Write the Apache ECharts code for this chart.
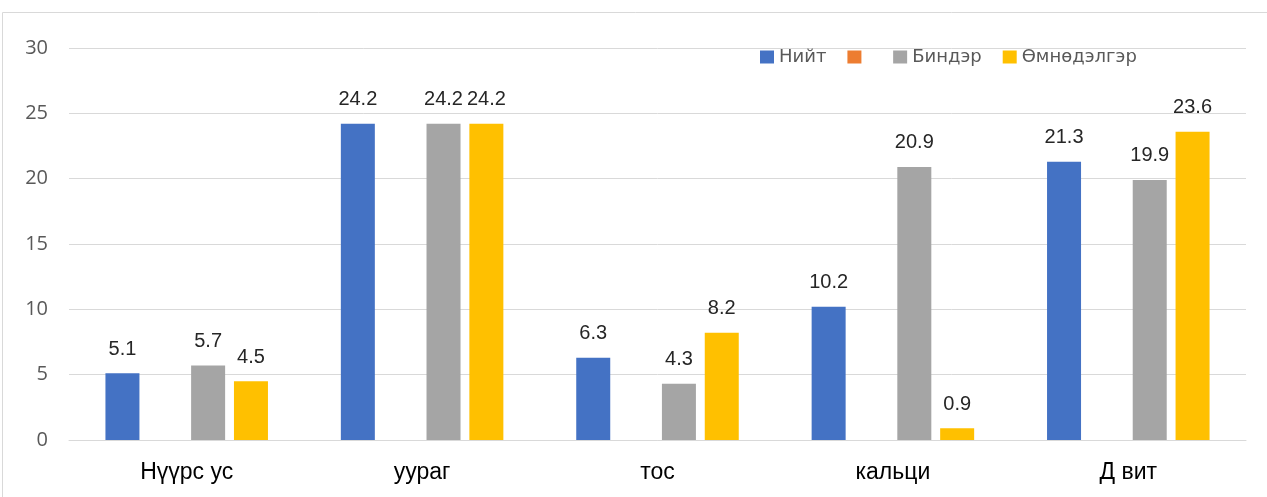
<!DOCTYPE html>
<html>
<head>
<meta charset="utf-8">
<script src="https://cdn.jsdelivr.net/npm/echarts@6/dist/echarts.min.js"></script>
<style>
  html, body { margin: 0; padding: 0; background: #fff; }
  #main { width: 1267px; height: 497px; }
</style>
</head>
<body>
<div id="main"></div>
<script>
var categories = ['Нүүрс ус', 'уураг', 'тос', 'кальци', 'Д вит'];
var niit = [5.1, 24.2, 6.3, 10.2, 21.3];
var second = [null, null, null, null, null];
var binder = [5.7, 24.2, 4.3, 20.9, 19.9];
var umnudelger = [4.5, 24.2, 8.2, 0.9, 23.6];
var yTicks = [0, 5, 10, 15, 20, 25, 30];

var chartDom = document.getElementById('main');
var myChart = echarts.init(chartDom);
var option;

var font = 'Liberation Sans, Arial, sans-serif';
var uiFont = 'Open Sans, sans-serif';
var label = {
  show: true,
  position: 'top',
  distance: 14,
  color: '#262626',
  fontSize: 20,
  fontFamily: font
};

option = {
  animation: false,
  textStyle: { fontFamily: font },
  color: ['#4472C4', '#ED7D31', '#A5A5A5', '#FFC000'],
  graphic: [{
    type: 'rect',
    shape: { x: 2.5, y: 12.5, width: 1300, height: 520 },
    style: { fill: 'none', stroke: '#d9d9d9', lineWidth: 1 },
    silent: true
  }],
  legend: {
    left: 755,
    top: 43,
    itemWidth: 14,
    itemHeight: 13,
    itemGap: 21,
    icon: 'rect',
    textStyle: { color: '#595959', fontSize: 18, fontFamily: 'DejaVu Sans, sans-serif' },
    data: ['Нийт', ' ', 'Биндэр', 'Өмнөдэлгэр']
  },
  grid: {
    left: 69,
    right: 21,
    top: 48,
    bottom: 57
  },
  xAxis: {
    type: 'category',
    data: categories,
    axisLine: { lineStyle: { color: '#d9d9d9' } },
    axisTick: { show: false },
    axisLabel: { color: '#000', fontSize: 23, margin: 21, fontFamily: font }
  },
  yAxis: {
    type: 'value',
    min: yTicks[0],
    max: yTicks[yTicks.length - 1],
    interval: 5,
    axisLine: { show: false },
    axisTick: { show: false },
    splitLine: { lineStyle: { color: '#d9d9d9' } },
    axisLabel: { color: '#595959', fontSize: 20, margin: 21, fontFamily: uiFont }
  },
  series: [
    { name: 'Нийт', type: 'bar', data: niit, barWidth: 34, barGap: '26%', label: label },
    { name: ' ', type: 'bar', data: second, barWidth: 34, barGap: '26%', label: label },
    { name: 'Биндэр', type: 'bar', data: binder, barWidth: 34, barGap: '26%', label: label },
    { name: 'Өмнөдэлгэр', type: 'bar', data: umnudelger, barWidth: 34, barGap: '26%', label: label }
  ]
};

option && myChart.setOption(option);
</script>
</body>
</html>
